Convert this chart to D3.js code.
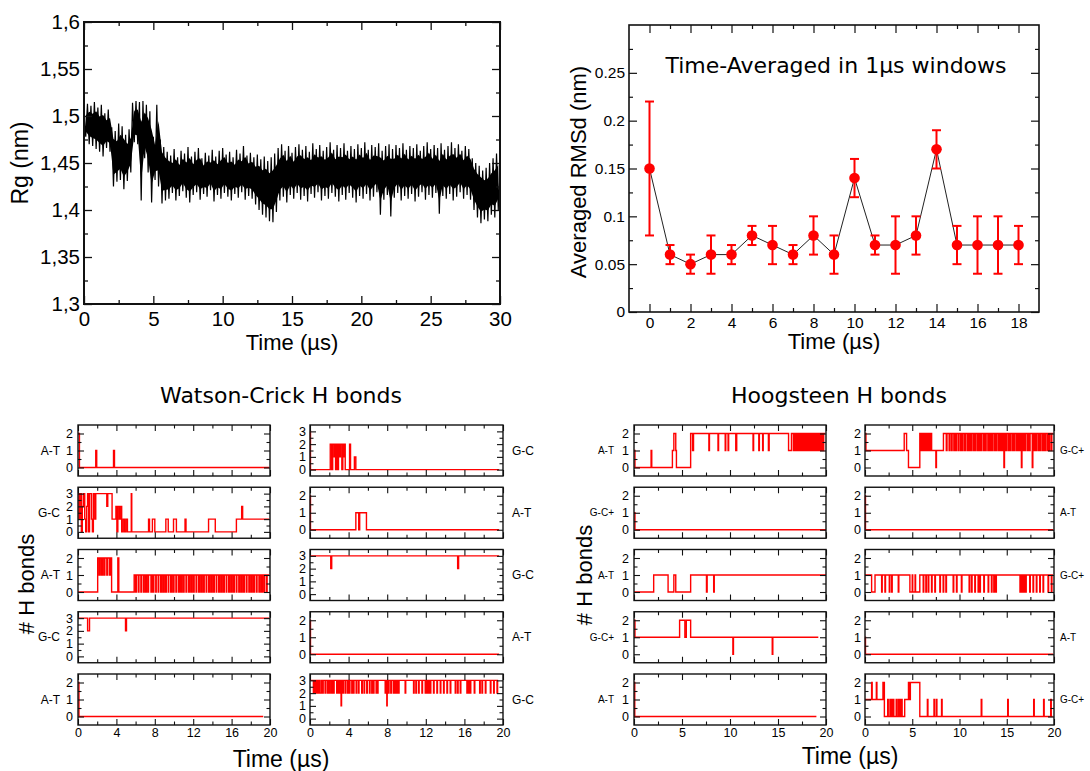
<!DOCTYPE html>
<html>
<head>
<meta charset="utf-8">
<script src="https://cdn.jsdelivr.net/npm/d3@7"></script>
<style>
  body { margin: 0; background: #fff; }
  svg text { font-family: "Liberation Sans", Arial, sans-serif; fill: #000; }
  .title { font-family: "DejaVu Sans", sans-serif !important; }
</style>
</head>
<body>
<svg id="fig" width="1090" height="771"></svg>
<script>
// ---------- top left: radius of gyration (envelope per 0.25 us bin) ----------
const rgStep = 0.25;
const rgHigh = [1.506,1.513,1.511,1.515,1.509,1.512,1.503,1.507,
  1.488,1.484,1.492,1.489,1.480,1.486,1.514,1.516,
  1.515,1.516,1.512,1.505,1.478,1.512,1.475,1.467,
  1.462,1.458,1.465,1.456,1.463,1.460,1.467,1.457,
  1.462,1.466,1.455,1.461,1.458,1.464,1.457,1.463,
  1.466,1.459,1.462,1.456,1.464,1.460,1.468,1.458,
  1.461,1.456,1.459,1.454,1.457,1.452,1.456,1.460,
  1.466,1.470,1.463,1.468,1.461,1.467,1.470,1.464,
  1.468,1.462,1.471,1.465,1.469,1.463,1.467,1.472,
  1.464,1.469,1.466,1.471,1.463,1.468,1.465,1.470,
  1.466,1.472,1.464,1.469,1.467,1.471,1.463,1.468,
  1.470,1.465,1.469,1.466,1.471,1.464,1.468,1.466,
  1.470,1.463,1.468,1.472,1.465,1.469,1.466,1.471,
  1.464,1.468,1.472,1.466,1.470,1.463,1.468,1.465,
  1.455,1.450,1.447,1.442,1.445,1.450,1.455,1.460];
const rgLow = [1.478,1.470,1.468,1.465,1.462,1.457,1.466,1.462,
  1.425,1.430,1.432,1.422,1.431,1.440,1.472,1.470,
  1.410,1.455,1.440,1.408,1.432,1.425,1.407,1.410,
  1.412,1.418,1.410,1.415,1.420,1.413,1.408,1.416,
  1.419,1.411,1.417,1.414,1.421,1.409,1.416,1.412,
  1.418,1.414,1.410,1.417,1.413,1.419,1.411,1.415,
  1.412,1.406,1.400,1.395,1.392,1.388,1.387,1.398,
  1.410,1.414,1.408,1.416,1.412,1.418,1.411,1.415,
  1.409,1.417,1.413,1.419,1.410,1.415,1.412,1.418,
  1.414,1.409,1.416,1.411,1.418,1.413,1.408,1.415,
  1.412,1.417,1.410,1.414,1.419,1.395,1.411,1.416,
  1.393,1.413,1.418,1.410,1.415,1.412,1.417,1.409,
  1.414,1.419,1.411,1.416,1.413,1.418,1.396,1.415,
  1.412,1.417,1.410,1.414,1.419,1.412,1.416,1.411,
  1.400,1.392,1.386,1.390,1.388,1.395,1.392,1.400];
const rgXTicks = [0,5,10,15,20,25,30];
const rgYTicks = [1.3,1.35,1.4,1.45,1.5,1.55,1.6];

// ---------- top right: time-averaged RMSd ----------
const rmsdTime = [0,1,2,3,4,5,6,7,8,9,10,11,12,13,14,15,16,17,18];
const rmsdMean = [0.15,0.06,0.05,0.06,0.06,0.08,0.07,0.06,0.08,0.06,0.14,0.07,0.07,0.08,0.17,0.07,0.07,0.07,0.07];
const rmsdErr  = [0.07,0.01,0.01,0.02,0.01,0.01,0.02,0.01,0.02,0.02,0.02,0.01,0.03,0.02,0.02,0.02,0.03,0.03,0.02];
const rmsdXTicks = [0,2,4,6,8,10,12,14,16,18];
const rmsdYTicks = [0,0.05,0.1,0.15,0.2,0.25];

// ---------- H bond panels: [start, end, value] excursions from the base value ----------
const wcLabelsL = ["A-T","G-C","A-T","G-C","A-T"];
const wcLabelsR = ["G-C","A-T","G-C","A-T","G-C"];
const hgLabelsL = ["A-T","G-C+","A-T","G-C+","A-T"];
const hgLabelsR = ["G-C+","A-T","G-C+","A-T","G-C+"];
const wcMaxL = [2,3,2,3,2], wcMaxR = [3,2,3,2,3];
const hgMax = [2,2,2,2,2];
const wcBaseL = [0,0,0,3,0], wcBaseR = [0,0,3,0,3];
const hgBaseL = [2,0,1,1,0], hgBaseR = [2,0,1,0,0];
const wcEndL = [19.9,19.9,19.9,19.9,19.3], wcEndR = [19.6,19.6,19.6,19.6,19.5];
const hgEndL = [19.9,20,20,19.2,19], hgEndR = [19.9,19.9,19.9,19.9,19.85];

const wcL1 = [[0,0.15,2],[1.85,1.95,1],[3.7,3.8,1]];
const wcL2 = [[0,0.1,3],[0.1,0.2,1],[0.2,0.35,3],[0.45,0.55,2],[0.55,0.7,3],[0.7,0.8,1],[0.9,1.0,2],[1.0,1.1,3],
  [1.2,1.4,3],[1.4,1.5,1],[1.6,1.75,3],[1.75,1.85,1],[1.85,3.0,3],[3.0,3.1,2],[3.1,3.55,3],[3.55,3.95,1],
  [3.95,4.05,2],[4.15,4.3,2],[4.3,4.45,1],[4.45,4.55,2],[4.7,4.85,1],[5.0,5.15,1],[5.55,5.6,3],[7.35,7.45,1],
  [7.75,8.0,1],[9.15,9.4,1],[9.95,10.25,1],[11.15,11.25,1],[13.6,14.3,1],[16.5,17.05,1],[17.05,17.15,2],[17.15,19.9,1]];
const wcL3 = [[2.05,2.2,2],[2.2,2.3,1],[2.3,2.45,2],[2.45,2.55,1],[2.55,2.7,2],[2.7,2.8,1],[2.8,3.0,2],[3.0,3.1,1],
  [3.1,3.3,2],[3.3,3.4,1],[3.4,3.5,2],[4.15,4.25,2],
  [5.85,6.0,1],[6.1,6.3,1],[6.35,6.55,1],[6.6,6.8,1],[6.9,7.05,1],[7.15,7.3,1],[7.35,7.6,1],[7.7,7.8,1],
  [7.9,8.1,1],[8.15,8.35,1],[8.4,8.6,1],[8.7,8.85,1],[8.95,9.1,1],[9.2,9.4,1],[9.45,9.65,1],[9.75,9.9,1],
  [10.0,10.2,1],[10.25,10.45,1],[10.55,10.7,1],[10.8,10.95,1],[11.05,11.25,1],[11.3,11.5,1],[11.6,11.75,1],
  [11.85,12.0,1],[12.1,12.3,1],[12.35,12.55,1],[12.65,12.8,1],[12.9,13.05,1],[13.15,13.35,1],[13.4,13.6,1],
  [13.7,13.85,1],[13.95,14.1,1],[14.2,14.4,1],[14.45,14.65,1],[14.75,14.9,1],[15.0,15.15,1],[15.25,15.45,1],
  [15.5,15.7,1],[15.8,15.95,1],[16.05,16.2,1],[16.3,16.5,1],[16.55,16.75,1],[16.85,17.0,1],[17.1,17.25,1],
  [17.35,17.55,1],[17.6,17.8,1],[17.9,18.05,1],[18.15,18.3,1],[18.4,18.6,1],[18.65,18.85,1],[18.95,19.1,1],
  [19.2,19.35,1],[19.45,19.65,1],[19.7,19.9,1]];
const wcL4 = [[1.0,1.2,2],[4.95,5.05,2]];
const wcL5 = [[0,0.1,2]];

const wcR1 = [[0,0.05,3],[2.1,2.25,2],[2.35,2.5,2],[2.5,2.55,1],[2.55,2.65,2],[2.75,2.85,2],[2.95,3.05,2],
  [3.05,3.15,1],[3.15,3.3,2],[3.4,3.5,2],[3.5,3.6,1],[3.6,3.65,2],[4.1,4.2,2],[4.6,4.75,1]];
const wcR2 = [[0,0.05,2],[4.75,5.05,1],[5.15,5.85,1]];
const wcR3 = [[2.15,2.25,2],[15.3,15.4,2]];
const wcR4 = [[0,0.05,2]];
const wcR5 = [[0.35,0.42,2],[0.52,0.58,2],[0.69,0.8,2],[0.87,0.93,2],[1.04,1.2,2],[1.31,1.37,2],[1.56,1.62,2],
  [1.8,1.86,2],[2.0,2.1,2],[2.25,2.31,2],[2.42,2.5,2],[2.77,2.83,2],[2.94,3.0,2],[3.11,3.17,2],[3.22,3.27,1],
  [3.39,3.45,2],[3.63,3.7,2],[3.88,3.94,2],[4.08,4.14,2],[4.33,4.4,2],[4.5,4.56,2],[4.78,4.84,2],[5.02,5.08,2],
  [5.36,5.42,2],[5.6,5.66,2],[5.88,5.94,2],[6.16,6.22,2],[6.4,6.46,2],[6.57,6.63,2],[6.85,6.91,2],[6.99,7.05,2],
  [7.79,7.85,2],[7.96,8.0,1],[8.13,8.19,2],[8.37,8.45,2],[8.65,8.71,2],[8.82,8.88,2],[9.0,9.06,2],[9.17,9.23,2],
  [9.86,9.92,2],[10.73,10.79,2],[10.97,11.03,2],[11.25,11.31,2],[11.6,11.66,2],[11.94,12.0,2],[12.11,12.17,2],
  [12.28,12.34,2],[12.46,12.52,2],[12.8,12.86,2],[13.15,13.21,2],[13.5,13.56,2],[13.84,13.9,2],[14.19,14.25,2],
  [14.53,14.59,2],[15.05,15.11,2],[15.29,15.35,2],[15.57,15.63,2],[16.26,16.32,2],[16.44,16.5,2],[16.6,16.66,2],
  [17.02,17.08,2],[17.58,17.64,2],[17.82,17.88,2],[18.17,18.23,2],[18.69,18.75,2],[19.03,19.09,2],[19.38,19.44,2]];

const hgL1 = [[0,0.1,1],[0.1,1.78,0],[1.78,1.85,1],[1.85,4.0,0],[4.0,4.15,1],[4.35,4.42,1],[4.42,5.9,0],
  [6.1,6.2,1],[7.8,7.86,1],[8.75,8.81,1],[9.5,9.56,1],[9.8,9.86,1],[10.6,10.7,1],[12.4,12.46,1],[13.0,13.06,1],
  [13.4,13.46,1],[14.0,14.08,1],[16.1,16.4,1],[16.6,16.66,1],[16.8,16.86,1],[16.95,17.02,1],[17.1,17.16,1],
  [17.25,17.32,1],[17.4,17.46,1],[17.5,17.58,1],[17.65,17.71,1],[17.8,17.88,1],[17.95,18.0,1],[18.05,18.12,1],
  [18.2,18.26,1],[18.35,18.42,1],[18.5,18.56,1],[18.65,18.72,1],[18.8,18.86,1],[18.95,19.02,1],[19.1,19.16,1],
  [19.25,19.32,1],[19.4,19.46,1],[19.55,19.62,1],[19.7,19.76,1]];
const hgL2 = [[0,0.1,1]];
const hgL3 = [[0,2.05,0],[3.55,4.15,0],[4.35,5.9,0],[7.55,7.62,0],[8.3,8.36,0]];
const hgL4 = [[0,0.1,2],[4.75,5.3,2],[5.45,5.9,2],[10.3,10.36,0],[14.4,14.46,0]];
const hgL5 = [[0,0.08,2]];

const hgR1 = [[0.1,4.15,1],[4.4,4.6,1],[4.6,5.8,0],[5.85,5.95,1],[6.0,6.05,1],[6.15,6.2,1],[6.3,6.4,1],
  [6.45,6.5,1],[6.6,6.7,1],[6.8,6.85,1],[6.95,7.0,1],[7.05,7.5,1],[7.5,7.56,0],[7.56,8.3,1],[8.6,8.68,1],
  [8.9,8.98,1],[9.15,9.22,1],[9.4,9.48,1],[9.6,9.67,1],[9.85,9.93,1],[10.1,10.17,1],[10.3,10.38,1],
  [10.55,10.62,1],[10.8,10.88,1],[11.0,11.07,1],[11.2,11.28,1],[11.45,11.52,1],[11.65,11.73,1],[11.9,11.97,1],
  [12.1,12.18,1],[12.3,12.37,1],[12.55,12.63,1],[12.75,12.82,1],[13.0,13.08,1],[13.2,13.27,1],[13.4,13.48,1],
  [13.65,13.72,1],[13.85,13.93,1],[14.1,14.17,1],[14.3,14.38,1],[14.5,14.57,1],[14.7,14.76,0],[14.9,14.98,1],
  [15.15,15.22,1],[15.35,15.43,1],[15.6,15.67,1],[15.8,15.88,1],[16.05,16.12,1],[16.25,16.33,1],[16.45,16.52,1],
  [16.55,16.61,0],[16.75,16.83,1],[16.95,17.02,1],[17.2,17.28,1],[17.4,17.47,1],[17.7,17.76,0],[17.9,17.97,1],
  [18.1,18.18,1],[18.35,18.42,1],[18.55,18.63,1],[18.8,18.87,1],[19.0,19.08,1],[19.25,19.32,1],[19.45,19.53,1],
  [19.7,19.77,1]];
const hgR2 = [[0,0.05,2]];
const hgR3 = [[0.7,1.06,0],[1.76,1.82,0],[2.11,2.17,0],[2.57,2.63,0],[2.82,2.88,0],[3.52,3.58,0],[4.75,5.0,0],
  [5.05,5.3,0],[5.35,5.8,0],[6.16,6.22,0],[6.44,6.5,0],[6.69,6.75,0],[7.04,7.1,0],[7.39,7.45,0],[7.92,7.98,0],
  [8.27,8.33,0],[8.56,8.62,0],[9.33,9.39,0],[9.68,9.74,0],[10.2,10.26,0],[11.02,11.08,0],[11.27,11.33,0],
  [11.62,11.68,0],[11.97,12.03,0],[12.15,12.21,0],[12.57,12.63,0],[13.03,13.09,0],[13.38,13.44,0],
  [13.63,13.69,0],[13.84,13.9,0],[16.4,16.46,0],[16.55,16.61,0],[16.7,16.76,0],[16.85,16.91,0],[17.0,17.06,0],
  [17.43,17.49,0],[17.78,17.84,0],[18.13,18.19,0],[18.49,18.55,0],[18.84,18.9,0],[19.37,19.43,0],[19.72,19.78,0]];
const hgR4 = [[0,0.05,1]];
const hgR5 = [[0,0.7,1],[0.7,0.76,2],[0.76,1.2,1],[1.2,1.26,2],[1.26,1.9,1],[1.9,2.05,2],[2.4,2.46,1],
  [2.64,2.7,1],[2.82,2.88,1],[2.99,3.05,1],[3.3,3.36,1],[3.52,3.58,1],[3.7,3.76,1],[3.87,3.93,1],[4.2,4.6,1],
  [4.6,4.65,2],[4.65,4.7,1],[4.7,4.75,2],[4.75,4.8,1],[4.8,5.8,2],[6.6,6.66,1],[7.3,7.36,1],[7.55,7.61,1],
  [8.1,8.16,1],[12.3,12.36,1],[15.1,15.16,1],[17.85,17.91,1],[18.9,18.96,1],[19.65,19.71,1]];

const wcXTicks = [0,4,8,12,16,20];
const hgXTicks = [0,5,10,15,20];

// ---------------------------------------------------------------------------
const svg = d3.select("#fig");
const comma = d => String(d).replace(".", ",");

// ticks drawn inside the frame on all four sides (xmgrace look)
function frameTicks(g, x, y, o) {
  const [x0, x1] = x.range(), [y1, y0] = y.range();
  const w = x1 - x0, h = y1 - y0;
  const sides = [
    {ax: d3.axisBottom, sc: x, tr: `translate(0,${y1})`, maj: o.xMajor, min: o.xMinor, lab: o.xLabels, fmt: o.xFmt, pad: o.xPad},
    {ax: d3.axisTop, sc: x, tr: `translate(0,${y0})`, maj: o.xMajor, min: o.xMinor, lab: false},
    {ax: d3.axisLeft, sc: y, tr: `translate(${x0},0)`, maj: o.yMajor, min: o.yMinor, lab: true, fmt: o.yFmt, pad: o.yPad},
    {ax: d3.axisRight, sc: y, tr: `translate(${x1},0)`, maj: o.yMajor, min: o.yMinor, lab: false}
  ];
  sides.forEach(s => {
    const a = g.append("g").attr("transform", s.tr)
      .call(s.ax(s.sc).tickValues(s.maj).tickSize(-o.majLen).tickPadding(s.pad || 3)
        .tickFormat(s.lab ? (s.fmt || (d => d)) : ""));
    a.select(".domain").remove();
    a.selectAll("line").attr("stroke", "#111").attr("stroke-width", o.tickW);
    a.selectAll("text").style("font-size", o.font + "px").attr("fill", "#000");
    const m = g.append("g").attr("transform", s.tr)
      .call(s.ax(s.sc).tickValues(s.min).tickSize(-o.minLen).tickFormat(""));
    m.select(".domain").remove();
    m.selectAll("line").attr("stroke", "#111").attr("stroke-width", o.tickW);
  });
  g.append("rect").attr("x", x0).attr("y", y0).attr("width", w).attr("height", h)
    .attr("fill", "none").attr("stroke", "#111").attr("stroke-width", o.frameW);
}

// ---------- panel A: Rg ----------
{
  const x = d3.scaleLinear().domain([0, 30]).range([84, 500]);
  const y = d3.scaleLinear().domain([1.3, 1.6]).range([304, 22]);
  const g = svg.append("g");
  svg.append("clipPath").attr("id", "clipRg").append("rect")
    .attr("x", 84).attr("y", 22).attr("width", 416).attr("height", 282);
  // dense core of the trace: inner part of each bin's range
  const inset = 0.2;
  g.append("path").datum(rgHigh.map((hi, i) => [i * rgStep + rgStep / 2, hi, rgLow[i]]))
    .attr("clip-path", "url(#clipRg)").attr("fill", "#000")
    .attr("d", d3.area().x(d => x(d[0]))
      .y0(d => y(d[2] + inset * (d[1] - d[2]))).y1(d => y(d[1] - inset * (d[1] - d[2]))));
  // spiky envelope
  const pts = [];
  rgHigh.forEach((hi, i) => {
    pts.push([i * rgStep, hi]);
    pts.push([i * rgStep + rgStep / 2, rgLow[i]]);
  });
  pts.push([30, rgHigh[rgHigh.length - 1]]);
  g.append("path").datum(pts).attr("clip-path", "url(#clipRg)")
    .attr("fill", "none").attr("stroke", "#000").attr("stroke-width", 1.2)
    .attr("d", d3.line().x(d => x(d[0])).y(d => y(d[1])));
  frameTicks(g, x, y, {
    xMajor: rgXTicks, xMinor: d3.range(2.5, 30, 5), yMajor: rgYTicks, yMinor: d3.range(1.325, 1.6, 0.05),
    xLabels: true, xPad: 7, yPad: 4, yFmt: comma, majLen: 8, minLen: 4, tickW: 1.3, frameW: 2, font: 20.5
  });
  g.append("text").attr("x", 292).attr("y", 350).attr("text-anchor", "middle")
    .style("font-size", "22px").text("Time (µs)");
  g.append("text").attr("transform", "translate(20,163) rotate(-90)").attr("dy", "0.35em")
    .attr("text-anchor", "middle").style("font-size", "23px").text("Rg (nm)");
}

// ---------- panel B: time-averaged RMSd ----------
{
  const x = d3.scaleLinear().domain([-1, 19]).range([629, 1039]);
  const y = d3.scaleLinear().domain([0, 0.3]).range([312, 25]);
  const g = svg.append("g");
  const red = "#ff0000";
  g.append("path").datum(rmsdTime.map((t, i) => [t, rmsdMean[i]]))
    .attr("fill", "none").attr("stroke", "#222").attr("stroke-width", 1)
    .attr("d", d3.line().x(d => x(d[0])).y(d => y(d[1])));
  const eb = g.selectAll(".eb").data(rmsdTime).enter().append("g").attr("stroke", red).attr("stroke-width", 2);
  eb.append("line").attr("x1", d => x(d)).attr("x2", d => x(d))
    .attr("y1", (d, i) => y(rmsdMean[i] - rmsdErr[i])).attr("y2", (d, i) => y(rmsdMean[i] + rmsdErr[i]));
  eb.append("line").attr("x1", d => x(d) - 4.5).attr("x2", d => x(d) + 4.5)
    .attr("y1", (d, i) => y(rmsdMean[i] + rmsdErr[i])).attr("y2", (d, i) => y(rmsdMean[i] + rmsdErr[i]));
  eb.append("line").attr("x1", d => x(d) - 4.5).attr("x2", d => x(d) + 4.5)
    .attr("y1", (d, i) => y(rmsdMean[i] - rmsdErr[i])).attr("y2", (d, i) => y(rmsdMean[i] - rmsdErr[i]));
  g.selectAll(".pt").data(rmsdTime).enter().append("circle")
    .attr("cx", d => x(d)).attr("cy", (d, i) => y(rmsdMean[i])).attr("r", 5.3).attr("fill", red);
  frameTicks(g, x, y, {
    xMajor: rmsdXTicks, xMinor: d3.range(1, 19, 2), yMajor: rmsdYTicks, yMinor: d3.range(0.025, 0.3, 0.05),
    xLabels: true, xPad: 5, yPad: 4, majLen: 8, minLen: 4, tickW: 1.2, frameW: 1.6, font: 15.5
  });
  g.append("text").attr("class", "title").attr("x", 836).attr("y", 73).attr("text-anchor", "middle")
    .style("font-size", "22px").text("Time-Averaged in 1µs windows");
  g.append("text").attr("x", 834).attr("y", 349).attr("text-anchor", "middle")
    .style("font-size", "22px").text("Time (µs)");
  g.append("text").attr("transform", "translate(578,172) rotate(-90)").attr("dy", "0.35em")
    .attr("text-anchor", "middle").style("font-size", "22px").text("Averaged RMSd (nm)");
}

// ---------- panels C/D: H bonds ----------
function toSteps(base, end, ev) {
  const pts = [];
  let t = 0;
  ev.forEach(e => {
    if (e[0] > t) pts.push([t, base]);
    pts.push([e[0], e[2]]);
    t = e[1];
  });
  if (t < end) pts.push([t, base]);
  pts.push([end, pts[pts.length - 1][1]]);
  return pts;
}

const rowTop = 425, rowGap = 62.25, rowH = 51;
const columns = [
  {x0: 78, x1: 270, labels: wcLabelsL, max: wcMaxL, base: wcBaseL, end: wcEndL, ev: [wcL1, wcL2, wcL3, wcL4, wcL5],
   xMajor: wcXTicks, xMinor: d3.range(2, 20, 4), side: "left", labX: 60, labFont: 12, yPad: 5},
  {x0: 310, x1: 503, labels: wcLabelsR, max: wcMaxR, base: wcBaseR, end: wcEndR, ev: [wcR1, wcR2, wcR3, wcR4, wcR5],
   xMajor: wcXTicks, xMinor: d3.range(2, 20, 4), side: "right", labX: 512, labFont: 12, yPad: 4},
  {x0: 634, x1: 826, labels: hgLabelsL, max: hgMax, base: hgBaseL, end: hgEndL, ev: [hgL1, hgL2, hgL3, hgL4, hgL5],
   xMajor: hgXTicks, xMinor: d3.range(2.5, 20, 5), side: "left", labX: 614, labFont: 10, yPad: 5},
  {x0: 865, x1: 1054, labels: hgLabelsR, max: hgMax, base: hgBaseR, end: hgEndR, ev: [hgR1, hgR2, hgR3, hgR4, hgR5],
   xMajor: hgXTicks, xMinor: d3.range(2.5, 20, 5), side: "right", labX: 1060, labFont: 10, yPad: 4}
];

columns.forEach(col => {
  col.ev.forEach((ev, i) => {
    const top = rowTop + i * rowGap, bot = top + rowH;
    const mx = col.max[i];
    const x = d3.scaleLinear().domain([0, 20]).range([col.x0, col.x1]);
    const y = d3.scaleLinear().domain([-0.5, mx + 0.5]).range([bot, top]);
    const g = svg.append("g");
    g.append("path").datum(toSteps(col.base[i], col.end[i], ev))
      .attr("fill", "none").attr("stroke", "#ff0000").attr("stroke-width", 1.4)
      .attr("d", d3.line().x(d => x(d[0])).y(d => y(d[1])).curve(d3.curveStepAfter));
    frameTicks(g, x, y, {
      xMajor: col.xMajor, xMinor: col.xMinor, yMajor: d3.range(0, mx + 1), yMinor: d3.range(0.5, mx + 0.5, 1),
      xLabels: i === 4, xPad: 3, yPad: col.yPad, majLen: 6, minLen: 3.5, tickW: 1.1, frameW: 1.4, font: 12.5
    });
    g.append("text").attr("x", col.labX).attr("y", (top + bot) / 2).attr("dy", "0.35em")
      .attr("text-anchor", col.side === "left" ? "end" : "start")
      .style("font-size", col.labFont + "px").text(col.labels[i]);
  });
});

svg.append("text").attr("class", "title").attr("x", 281).attr("y", 403).attr("text-anchor", "middle")
  .style("font-size", "22px").text("Watson-Crick H bonds");
svg.append("text").attr("class", "title").attr("x", 839).attr("y", 403).attr("text-anchor", "middle")
  .style("font-size", "22px").text("Hoogsteen H bonds");
svg.append("text").attr("x", 281).attr("y", 767).attr("text-anchor", "middle")
  .style("font-size", "23px").text("Time (µs)");
svg.append("text").attr("x", 850).attr("y", 764).attr("text-anchor", "middle")
  .style("font-size", "23px").text("Time (µs)");
svg.append("text").attr("transform", "translate(26,584) rotate(-90)").attr("dy", "0.35em")
  .attr("text-anchor", "middle").style("font-size", "22px").text("# H bonds");
svg.append("text").attr("transform", "translate(584,575) rotate(-90)").attr("dy", "0.35em")
  .attr("text-anchor", "middle").style("font-size", "22px").text("# H bonds");
</script>
</body>
</html>
